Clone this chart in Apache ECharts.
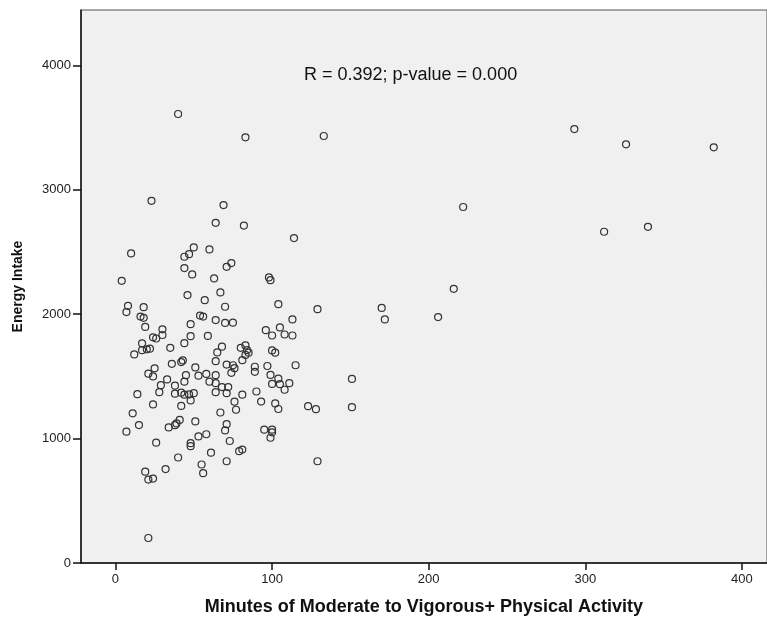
<!DOCTYPE html>
<html>
<head>
<meta charset="utf-8">
<script src="https://cdn.jsdelivr.net/npm/echarts@6/dist/echarts.min.js"></script>
<style>
  html, body { margin: 0; padding: 0; background: #fff; }
  #main { width: 767px; height: 623px; }
</style>
</head>
<body>
<div id="main"></div>
<script>
// Minutes of MVPA (x) and energy intake (y), one entry per participant
const mvpa = [
  40, 83, 133, 293, 326, 382, 222, 23, 69, 64, 82, 114, 312, 340, 10, 4, 44, 47, 50, 60,
  44, 49, 63, 71, 74, 98, 99, 216, 67, 46, 57, 8, 7, 18, 70, 104, 129, 170, 172, 206,
  16, 18, 19, 54, 56, 48, 64, 70, 75, 113, 30, 30, 24, 26, 48, 59, 96, 105, 100, 108,
  113, 17, 17, 20, 22, 12, 35, 44, 68, 65, 80, 83, 84, 85, 83, 100, 102, 64, 81, 36,
  42, 43, 25, 21, 24, 33, 45, 51, 53, 58, 64, 71, 75, 76, 74, 89, 89, 97, 99, 115,
  151, 104, 29, 28, 38, 14, 38, 42, 44, 44, 47, 50, 48, 60, 64, 68, 72, 64, 71, 81,
  90, 100, 105, 111, 108, 24, 42, 11, 67, 76, 77, 93, 102, 104, 123, 128, 151, 41, 15, 7,
  34, 38, 39, 51, 71, 70, 58, 53, 73, 48, 26, 95, 100, 100, 99, 48, 79, 81, 61, 40,
  32, 19, 21, 24, 55, 56, 71, 129, 21
];
const energy = [
  3610, 3422, 3433, 3489, 3366, 3342, 2862, 2912, 2878, 2735, 2713, 2612, 2663, 2703, 2489, 2269, 2462, 2483, 2537, 2521,
  2371, 2320, 2288, 2381, 2411, 2296, 2274, 2204, 2175, 2154, 2113, 2068, 2017, 2057, 2060, 2081, 2041, 2051, 1958, 1977,
  1981, 1971, 1898, 1989, 1981, 1920, 1953, 1930, 1932, 1958, 1879, 1833, 1814, 1805, 1824, 1826, 1872, 1894, 1829, 1837,
  1829, 1766, 1711, 1718, 1723, 1677, 1730, 1767, 1739, 1693, 1730, 1749, 1711, 1691, 1673, 1709, 1691, 1623, 1631, 1601,
  1615, 1629, 1565, 1522, 1500, 1476, 1510, 1572, 1506, 1520, 1510, 1595, 1590, 1566, 1529, 1578, 1537, 1584, 1512, 1590,
  1480, 1482, 1430, 1373, 1426, 1357, 1361, 1369, 1458, 1353, 1355, 1365, 1307, 1458, 1446, 1414, 1414, 1373, 1365, 1353,
  1379, 1440, 1438, 1446, 1393, 1275, 1263, 1203, 1210, 1297, 1232, 1298, 1283, 1238, 1261, 1237, 1253, 1150, 1109, 1056,
  1090, 1108, 1122, 1138, 1116, 1066, 1035, 1018, 981, 963, 967, 1072, 1072, 1051, 1007, 939, 899, 912, 887, 848,
  755, 734, 671, 679, 792, 722, 818, 818, 201
];
const xTicks = [0, 100, 200, 300, 400];
const yTicks = [0, 1000, 2000, 3000, 4000];
const statText = 'R = 0.392; p-value = 0.000';

const chart = echarts.init(document.getElementById('main'));
const points = mvpa.map((m, i) => [m, energy[i]]);

const font = 'Liberation Sans, Arial, sans-serif';

chart.setOption({
  backgroundColor: '#ffffff',
  animation: false,
  textStyle: { fontFamily: font },
  grid: {
    left: 81, top: 10, right: 0, bottom: 60,
    show: true,
    backgroundColor: '#f0f0f0',
    borderColor: '#555',
    borderWidth: 1
  },
  xAxis: {
    type: 'value',
    min: -22,
    max: 416,
    name: 'Minutes of Moderate to Vigorous+ Physical Activity',
    nameLocation: 'middle',
    nameGap: 35,
    nameTextStyle: { fontFamily: font, fontWeight: 'bold', fontSize: 18, color: '#111' },
    axisLine: { show: true, onZero: false, lineStyle: { color: '#111', width: 1.5 } },
    axisTick: { show: true, length: 7, customValues: xTicks, lineStyle: { color: '#111', width: 1.5 } },
    axisLabel: { customValues: xTicks, margin: 10, fontSize: 13, color: '#222', fontFamily: font },
    splitLine: { show: false }
  },
  yAxis: {
    type: 'value',
    min: 0,
    max: 4446,
    name: 'Energy Intake',
    nameLocation: 'middle',
    nameGap: 56,
    nameRotate: 90,
    nameTextStyle: { fontFamily: font, fontWeight: 'bold', fontSize: 14, color: '#111' },
    axisLine: { show: true, onZero: false, lineStyle: { color: '#111', width: 1.5 } },
    axisTick: { show: true, length: 8, customValues: yTicks, lineStyle: { color: '#111', width: 1.5 } },
    axisLabel: {
      customValues: yTicks, margin: 10, fontSize: 13, color: '#222', fontFamily: font,
      formatter: (v) => String(v)
    },
    splitLine: { show: false }
  },
  graphic: [{
    type: 'text',
    left: 304,
    top: 66,
    style: { text: statText, font: '18px ' + font, fill: '#111' }
  }],
  series: [{
    type: 'scatter',
    data: points,
    symbol: 'circle',
    symbolSize: 7,
    itemStyle: { color: 'rgba(0,0,0,0)', borderColor: '#333', borderWidth: 1.2, opacity: 1 }
  }]
});
</script>
</body>
</html>
